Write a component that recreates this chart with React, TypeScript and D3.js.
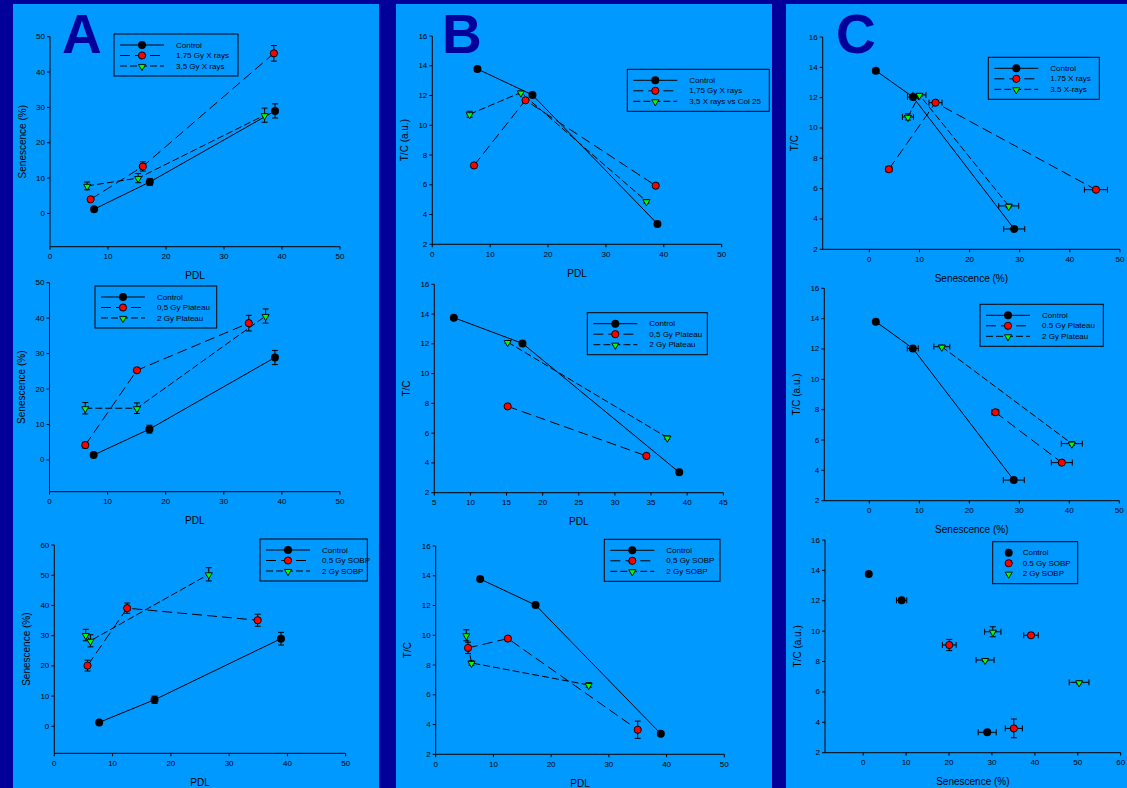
import React from 'react';
import * as d3 from 'd3';

type Pt = number[]; // [x, y, xErr, yErr]

// ── Row 1 : X rays ─────────────────────────────────────────────────────────
const ctrlA1: Pt[] = [[7.6, 1.2, 0, 0.5], [17.2, 8.9, 0, 1.0], [38.8, 29.0, 0, 2.0]];
const x175A1: Pt[] = [[7.0, 4.0, 0, 0.6], [16.0, 13.3, 0, 1.3], [38.6, 45.3, 0, 2.2]];
const x35A1: Pt[] = [[6.4, 7.8, 0, 1.1], [15.2, 10.0, 0, 1.3], [37.0, 27.8, 0, 2.0]];

const ctrlB1: Pt[] = [[7.8, 13.78, 0, 0.12], [17.3, 12.04, 0, 0.1], [38.9, 3.37, 0, 0.1]];
const x175B1: Pt[] = [[7.2, 7.3, 0, 0.15], [16.1, 11.68, 0, 0.1], [38.6, 5.94, 0, 0.1]];
const x35B1: Pt[] = [[6.45, 10.74, 0, 0.2], [15.3, 12.2, 0, 0.1], [37.0, 4.89, 0, 0.12]];

const ctrlC1: Pt[] = [[1.3, 13.78, 0.3, 0.12], [8.7, 12.04, 1.1, 0.1], [28.9, 3.34, 2.1, 0.1]];
const x175C1: Pt[] = [[3.9, 7.28, 0.6, 0.15], [13.2, 11.67, 1.3, 0.1], [45.2, 5.93, 2.3, 0.1]];
const x35C1: Pt[] = [[7.7, 10.73, 1.1, 0.2], [10.0, 12.18, 1.3, 0.1], [27.8, 4.86, 2.0, 0.12]];

// ── Row 2 : Plateau ────────────────────────────────────────────────────────
const ctrlA2: Pt[] = [[7.6, 1.4, 0, 0.5], [17.2, 8.7, 0, 1.1], [38.8, 28.9, 0, 2.0]];
const p05A2: Pt[] = [[6.15, 4.2, 0, 0.8], [15.05, 25.3, 0, 0.6], [34.3, 38.6, 0, 2.2]];
const p2A2: Pt[] = [[6.15, 14.6, 0, 1.6], [15.05, 14.6, 0, 1.5], [37.2, 40.6, 0, 2.0]];

const ctrlB2: Pt[] = [[7.7, 13.76, 0, 0.1], [17.2, 12.03, 0, 0.1], [38.9, 3.37, 0, 0.1]];
const p05B2: Pt[] = [[15.15, 7.8, 0, 0.08], [34.35, 4.47, 0, 0.1]];
const p2B2: Pt[] = [[15.15, 12.12, 0, 0.1], [37.25, 5.7, 0, 0.12]];

const ctrlC2: Pt[] = [[1.3, 13.8, 0.3, 0.1], [8.7, 12.04, 1.1, 0.1], [28.9, 3.36, 2.1, 0.1]];
const p05C2: Pt[] = [[25.2, 7.83, 0.7, 0.1], [38.5, 4.51, 2.1, 0.1]];
const p2C2: Pt[] = [[14.5, 12.15, 1.6, 0.1], [40.5, 5.76, 2.1, 0.12]];

// ── Row 3 : SOBP ───────────────────────────────────────────────────────────
const ctrlA3: Pt[] = [[7.7, 1.3, 0, 0.5], [17.2, 8.8, 0, 1.2], [38.9, 29.0, 0, 2.1]];
const s05A3: Pt[] = [[5.7, 20.1, 0, 1.8], [12.5, 39.1, 0, 1.7], [34.9, 35.1, 0, 2.0]];
const s2A3: Pt[] = [[5.4, 30.2, 0, 1.9], [6.2, 28.3, 0, 2.0], [26.5, 50.3, 0, 2.2]];

const ctrlB3: Pt[] = [[7.7, 13.78, 0, 0.1], [17.3, 12.03, 0, 0.1], [39.0, 3.38, 0, 0.1]];
const s05B3: Pt[] = [[5.6, 9.15, 0, 0.38], [12.5, 9.78, 0, 0.1], [35.0, 3.65, 0, 0.58]];
const s2B3: Pt[] = [[5.3, 10.0, 0, 0.37], [6.2, 8.14, 0, 0.15], [26.5, 6.66, 0, 0.15]];

const ctrlC3: Pt[] = [[1.3, 13.76, 0.3, 0.1], [8.95, 12.03, 1.2, 0.1], [28.9, 3.34, 2.1, 0.1]];
const s05C3: Pt[] = [[20.05, 9.09, 1.6, 0.37], [39.1, 9.73, 1.7, 0.1], [35.1, 3.6, 2.0, 0.62]];
const s2C3: Pt[] = [[30.2, 9.96, 1.9, 0.33], [28.4, 8.1, 2.1, 0.1], [50.3, 6.63, 2.3, 0.1]];

// ── Tick values ────────────────────────────────────────────────────────────
const ticks0to50 = [0, 10, 20, 30, 40, 50];
const ticks0to60 = [0, 10, 20, 30, 40, 50, 60];
const ticks5to45 = [5, 10, 15, 20, 25, 30, 35, 40, 45];
const ticksTC = [2, 4, 6, 8, 10, 12, 14, 16];

const legendX = ['Control', '1,75 Gy X rays', '3,5 Gy X rays'];
const legendXB = ['Control', '1,75 Gy X rays', '3,5 X rays vs Col 25'];
const legendXC = ['Control', '1.75 X rays', '3.5 X-rays'];
const legendP = ['Control', '0,5 Gy Plateau', '2 Gy Plateau'];
const legendPC = ['Control', '0.5 Gy Plateau', '2 Gy Plateau'];
const legendS = ['Control', '0,5 Gy SOBP', '2 Gy SOBP'];
const legendSC = ['Control', '0.5 Gy SOBP', '2 Gy SOBP'];

const FONT = 'Arial, "Liberation Sans", sans-serif';
const PAGE_BG = '#000099';
const PANEL_BG = '#0099FF';
const INK = '#000';
const KINDS = ['ctrl', 'red', 'green'];
const DASH = ['', '10,5', '7,3'];

const SEN = 'Senescence (%)';

const PANELS = [
  // row 1
  { xd: [0, 50], xr: [50, 340], yd: [-9.4, 50], yr: [246.7, 36.7], xt: ticks0to50, yt: ticks0to50,
    xl: 'PDL', yl: SEN, series: [ctrlA1, x175A1, x35A1], lines: true, leg: [114, 34, 124], legLabels: legendX },
  { xd: [0, 50], xr: [432.3, 721.7], yd: [2, 16], yr: [244.3, 36], xt: ticks0to50, yt: ticksTC,
    xl: 'PDL', yl: 'T/C (a.u.)', series: [ctrlB1, x175B1, x35B1], lines: true, leg: [627.3, 69.3, 142], legLabels: legendXB },
  { xd: [-9.3, 50], xr: [822.7, 1120], yd: [2, 16], yr: [249.3, 37], xt: ticks0to50, yt: ticksTC,
    xl: SEN, yl: 'T/C', series: [ctrlC1, x175C1, x35C1], lines: true, leg: [988.3, 57.3, 111], legLabels: legendXC },
  // row 2
  { xd: [0, 50], xr: [49.5, 340], yd: [-8.94, 50], yr: [491.7, 282.7], xt: ticks0to50, yt: ticks0to50,
    xl: 'PDL', yl: SEN, series: [ctrlA2, p05A2, p2A2], lines: true, leg: [95, 286, 121.7], legLabels: legendP },
  { xd: [5, 45], xr: [434.3, 723.3], yd: [2, 16], yr: [492.7, 284.3], xt: ticks5to45, yt: ticksTC,
    xl: 'PDL', yl: 'T/C', series: [ctrlB2, p05B2, p2B2], lines: true, leg: [587.3, 312.7, 120], legLabels: legendP },
  { xd: [-9, 50], xr: [824.3, 1119.3], yd: [2, 16], yr: [500.7, 288.3], xt: ticks0to50, yt: ticksTC,
    xl: SEN, yl: 'T/C (a.u.)', series: [ctrlC2, p05C2, p2C2], lines: true, leg: [980, 304.3, 123.3], legLabels: legendPC },
  // row 3
  { xd: [0, 50], xr: [54.3, 345.7], yd: [-8.93, 60], yr: [753.3, 545], xt: ticks0to50, yt: ticks0to60,
    xl: 'PDL', yl: SEN, series: [ctrlA3, s05A3, s2A3], lines: true, leg: [260, 539, 107.3], legLabels: legendS },
  { xd: [0, 50], xr: [435.7, 724.3], yd: [2, 16], yr: [754.3, 546], xt: ticks0to50, yt: ticksTC,
    xl: 'PDL', yl: 'T/C', series: [ctrlB3, s05B3, s2B3], lines: true, leg: [604.3, 539.3, 115.7], legLabels: legendS },
  { xd: [-8.9, 60], xr: [825, 1120.7], yd: [2, 16], yr: [752.7, 540], xt: ticks0to60, yt: ticksTC,
    xl: SEN, yl: 'T/C (a.u.)', series: [ctrlC3, s05C3, s2C3], lines: false, leg: [992.7, 541.7, 85], legLabels: legendSC },
];

const COLUMNS = [
  { x: 13, w: 366, letter: 'A', lx: 62 },
  { x: 396, w: 376, letter: 'B', lx: 442 },
  { x: 786, w: 341, letter: 'C', lx: 836 },
];

const triangle = d3.symbol().type(d3.symbolTriangle).size(22)() as string;

function Marker({ kind, cx, cy }: { kind: string; cx: number; cy: number }) {
  if (kind === 'ctrl') return <circle cx={cx} cy={cy} r={4} fill="#000" />;
  if (kind === 'red') return <circle cx={cx} cy={cy} r={3.6} fill="#ff0000" stroke="#000" strokeWidth={1} />;
  return <path d={triangle} transform={`translate(${cx},${cy + 0.5}) rotate(180)`} fill="#00ff00" stroke="#000" strokeWidth={0.9} />;
}

function Panel({ p }: { p: any }) {
  const x = d3.scaleLinear().domain(p.xd).range(p.xr);
  const y = d3.scaleLinear().domain(p.yd).range(p.yr);
  const line = d3.line<Pt>().x(d => x(d[0])).y(d => y(d[1]));
  const ax = p.xr[0];
  const ay = p.yr[0];
  const [lx, ly, lw] = p.leg;

  return (
    <g>
      {/* connecting lines */}
      {p.lines && p.series.map((s: Pt[], i: number) => (
        <path key={'l' + i} d={line(s) || ''} fill="none" stroke="#000" strokeWidth={1}
          strokeDasharray={DASH[i]} />
      ))}

      {/* error bars */}
      {p.series.map((s: Pt[], i: number) => s.map((d, j) => (
        <g key={`e${i}-${j}`} stroke="#000" strokeWidth={1}>
          {d[3] > 0 && (
            <>
              <line x1={x(d[0])} x2={x(d[0])} y1={y(d[1] - d[3])} y2={y(d[1] + d[3])} />
              <line x1={x(d[0]) - 3} x2={x(d[0]) + 3} y1={y(d[1] - d[3])} y2={y(d[1] - d[3])} />
              <line x1={x(d[0]) - 3} x2={x(d[0]) + 3} y1={y(d[1] + d[3])} y2={y(d[1] + d[3])} />
            </>
          )}
          {d[2] > 0 && (
            <>
              <line x1={x(d[0] - d[2])} x2={x(d[0] + d[2])} y1={y(d[1])} y2={y(d[1])} />
              <line x1={x(d[0] - d[2])} x2={x(d[0] - d[2])} y1={y(d[1]) - 3} y2={y(d[1]) + 3} />
              <line x1={x(d[0] + d[2])} x2={x(d[0] + d[2])} y1={y(d[1]) - 3} y2={y(d[1]) + 3} />
            </>
          )}
        </g>
      )))}

      {/* markers */}
      {p.series.map((s: Pt[], i: number) => s.map((d, j) => (
        <Marker key={`m${i}-${j}`} kind={KINDS[i]} cx={x(d[0])} cy={y(d[1])} />
      )))}

      {/* axes */}
      <line x1={ax} x2={p.xr[1]} y1={ay} y2={ay} stroke={INK} strokeWidth={1} />
      <line x1={ax} x2={ax} y1={ay} y2={p.yr[1]} stroke={INK} strokeWidth={1} />
      {p.xt.map((t: number) => (
        <g key={'xt' + t}>
          <line x1={x(t)} x2={x(t)} y1={ay} y2={ay + 3} stroke={INK} />
          <text x={x(t)} y={ay + 10} textAnchor="middle" dominantBaseline="central"
            fontSize={8} fill={INK}>{t}</text>
        </g>
      ))}
      {p.yt.map((t: number) => (
        <g key={'yt' + t}>
          <line x1={ax - 3} x2={ax} y1={y(t)} y2={y(t)} stroke={INK} />
          <text x={ax - 5} y={y(t)} textAnchor="end" dominantBaseline="central"
            fontSize={8} fill={INK}>{t}</text>
        </g>
      ))}
      <text x={(p.xr[0] + p.xr[1]) / 2} y={ay + 29} textAnchor="middle" dominantBaseline="central"
        fontSize={10} fill={INK}>{p.xl}</text>
      <text transform={`translate(${ax - 28},${(p.yr[0] + p.yr[1]) / 2}) rotate(-90)`}
        textAnchor="middle" dominantBaseline="central" fontSize={10} fill={INK}>{p.yl}</text>

      {/* legend */}
      <rect x={lx} y={ly} width={lw} height={42} fill="none" stroke="#000" strokeWidth={1} />
      {p.legLabels.map((lab: string, i: number) => {
        const ry = ly + 11 + i * 10.5;
        const mx = p.lines ? lx + 28 : lx + 16;
        const tx = p.lines ? lx + 62 : lx + 30;
        return (
          <g key={'lg' + i}>
            {p.lines && (
              <line x1={lx + 6} x2={lx + 50} y1={ry} y2={ry} stroke="#000" strokeWidth={1}
                strokeDasharray={DASH[i]} />
            )}
            <Marker kind={KINDS[i]} cx={mx} cy={ry} />
            <text x={tx} y={ry} dominantBaseline="central" fontSize={8} fill={INK}>{lab}</text>
          </g>
        );
      })}
    </g>
  );
}

export default function App() {
  return (
    <svg width={1127} height={788} style={{ position: 'fixed', left: 0, top: 0 }} fontFamily={FONT}>
      <rect x={0} y={0} width={1127} height={788} fill={PAGE_BG} />
      {COLUMNS.map(c => (
        <g key={c.letter}>
          <rect x={c.x} y={4} width={c.w} height={784} fill={PANEL_BG} />
          <text x={c.lx} y={53} fontSize={55} fontWeight="bold" fill={PAGE_BG}>{c.letter}</text>
        </g>
      ))}
      {PANELS.map((p, i) => <Panel key={i} p={p} />)}
    </svg>
  );
}
